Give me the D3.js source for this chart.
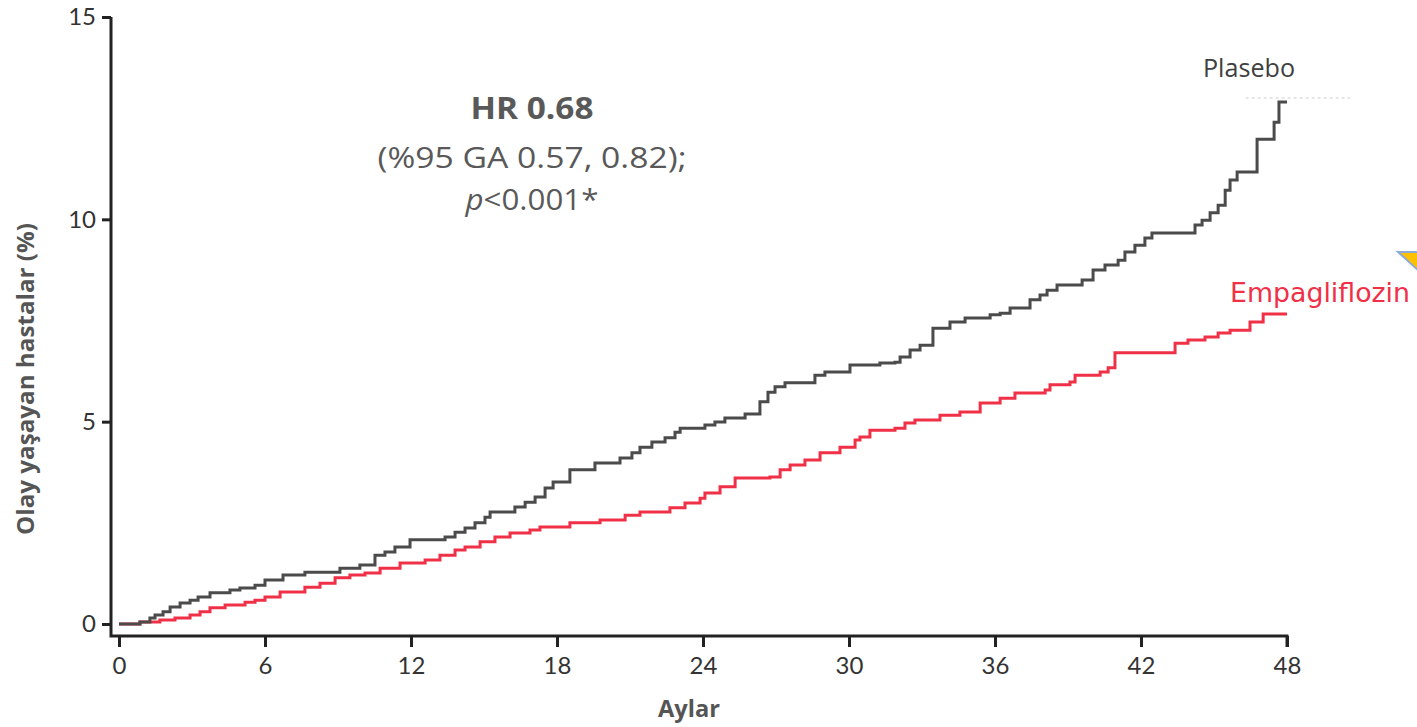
<!DOCTYPE html>
<html>
<head>
<meta charset="utf-8">
<script src="https://cdn.jsdelivr.net/npm/d3@7"></script>
<style>
  html, body { margin: 0; padding: 0; background: #fff; }
  svg { display: block; }
</style>
</head>
<body>
<svg id="chart" width="1417" height="727"></svg>
<script>
// Cumulative incidence (%) by month, step curves
const placeboMonths = [0, 0.86, 1.27, 1.48, 1.81, 2.10, 2.51, 2.92, 3.25, 3.74, 4.56, 4.97, 5.59, 6.00, 6.74, 7.64, 9.08, 9.90, 10.52, 10.93, 11.34, 11.96, 13.40, 13.81, 14.22, 14.63, 15.04, 15.25, 16.27, 16.69, 17.10, 17.51, 17.84, 18.53, 19.56, 20.59, 21.08, 21.41, 21.90, 22.44, 22.85, 23.06, 24.08, 24.49, 24.90, 25.73, 26.34, 26.67, 26.96, 27.37, 28.60, 29.01, 30.04, 31.27, 31.89, 32.10, 32.51, 32.92, 33.45, 34.15, 34.77, 35.80, 36.21, 36.62, 37.44, 37.85, 38.14, 38.55, 39.58, 40.03, 40.52, 41.06, 41.34, 41.75, 42.16, 42.45, 44.22, 44.51, 44.84, 45.17, 45.46, 45.66, 45.95, 46.77, 47.47, 47.67, 48.0];
const placeboValues = [0, 0.05, 0.15, 0.22, 0.30, 0.42, 0.52, 0.59, 0.67, 0.77, 0.84, 0.89, 0.96, 1.09, 1.21, 1.28, 1.38, 1.46, 1.70, 1.78, 1.90, 2.08, 2.15, 2.27, 2.37, 2.50, 2.64, 2.77, 2.89, 3.01, 3.14, 3.36, 3.51, 3.81, 3.98, 4.10, 4.23, 4.37, 4.50, 4.60, 4.74, 4.84, 4.92, 4.99, 5.09, 5.19, 5.49, 5.73, 5.86, 5.96, 6.15, 6.23, 6.40, 6.45, 6.47, 6.60, 6.77, 6.89, 7.31, 7.46, 7.56, 7.64, 7.68, 7.81, 8.01, 8.13, 8.25, 8.38, 8.50, 8.75, 8.87, 8.99, 9.19, 9.36, 9.54, 9.66, 9.86, 9.98, 10.16, 10.35, 10.72, 10.97, 11.17, 11.98, 12.40, 12.90, 12.90];

const empaMonths = [0, 0.86, 1.68, 2.30, 2.92, 3.33, 3.74, 4.36, 5.18, 5.59, 6.00, 6.62, 7.64, 8.26, 8.88, 9.49, 10.11, 10.73, 11.55, 12.58, 13.19, 13.81, 14.22, 14.84, 15.45, 16.07, 16.89, 17.30, 18.53, 19.77, 20.80, 21.41, 22.64, 23.26, 23.88, 24.08, 24.70, 25.32, 26.75, 27.17, 27.58, 28.19, 28.81, 29.63, 30.25, 30.45, 30.86, 31.89, 32.30, 32.71, 33.74, 34.56, 35.39, 36.21, 36.82, 38.06, 38.26, 39.08, 39.29, 40.32, 40.65, 40.93, 43.40, 43.93, 44.63, 45.17, 45.66, 46.48, 47.02, 48.0];
const empaValues = [0, 0.05, 0.10, 0.15, 0.22, 0.30, 0.40, 0.47, 0.54, 0.59, 0.67, 0.79, 0.91, 1.01, 1.14, 1.21, 1.26, 1.38, 1.51, 1.58, 1.70, 1.83, 1.90, 2.03, 2.15, 2.25, 2.32, 2.40, 2.50, 2.57, 2.69, 2.77, 2.87, 2.99, 3.11, 3.24, 3.39, 3.61, 3.63, 3.81, 3.93, 4.05, 4.23, 4.37, 4.55, 4.62, 4.79, 4.84, 4.97, 5.04, 5.16, 5.24, 5.46, 5.58, 5.71, 5.78, 5.91, 5.98, 6.15, 6.23, 6.33, 6.70, 6.94, 7.02, 7.09, 7.19, 7.26, 7.46, 7.66, 7.66];

const xTicks = [0, 6, 12, 18, 24, 30, 36, 42, 48];
const yTicks = [0, 5, 10, 15];

const seriesNames = ["Plasebo", "Empagliflozin"];
const statLines = ["HR 0.68", "(%95 GA 0.57, 0.82);", "<0.001*"];
const xTitle = "Aylar";
const yTitle = "Olay yaşayan hastalar (%)";

const svg = d3.select("#chart");

const x = d3.scaleLinear().domain([0, 48]).range([119, 1287]);
const y = d3.scaleLinear().domain([0, 15]).range([624, 17]);

const axisColor = "#222";
const tickFont = "Lato, 'DejaVu Sans', sans-serif";

// Axis frame: vertical and horizontal spines meeting at the lower-left corner
const axisX0 = 111, axisY0 = 636;

const gx = svg.append("g").attr("transform", `translate(0,${axisY0})`)
  .call(d3.axisBottom(x).tickValues(xTicks).tickSize(11).tickPadding(10).tickSizeOuter(0));
gx.select(".domain").remove();
gx.selectAll(".tick line").attr("stroke", axisColor).attr("stroke-width", 3);
gx.selectAll(".tick text").attr("font-family", tickFont).attr("font-size", 24).attr("fill", "#333");

const gy = svg.append("g").attr("transform", `translate(${axisX0},0)`)
  .call(d3.axisLeft(y).tickValues(yTicks).tickSize(9).tickPadding(6).tickSizeOuter(0));
gy.select(".domain").remove();
gy.selectAll(".tick line").attr("stroke", axisColor).attr("stroke-width", 3);
gy.selectAll(".tick text").attr("font-family", tickFont).attr("font-size", 24).attr("fill", "#333");

svg.append("path")
  .attr("d", `M${axisX0},${y(15)}V${axisY0}H${x(48)}V${axisY0 + 11}`)
  .attr("fill", "none").attr("stroke", axisColor).attr("stroke-width", 3);

// Step curves
const line = d3.line().x(d => x(d[0])).y(d => y(d[1])).curve(d3.curveStepAfter);
const placebo = placeboMonths.map((m, i) => [m, placeboValues[i]]);
const empa = empaMonths.map((m, i) => [m, empaValues[i]]);

svg.append("path").datum(empa).attr("d", line)
  .attr("fill", "none").attr("stroke", "#ef3047").attr("stroke-width", 3);
svg.append("path").datum(placebo).attr("d", line)
  .attr("fill", "none").attr("stroke", "#4b4b4b").attr("stroke-width", 3);

// faint dotted trace above the placebo end
svg.append("line")
  .attr("x1", x(46.3)).attr("x2", x(50.6)).attr("y1", 98).attr("y2", 98)
  .attr("stroke", "#e6e6e6").attr("stroke-width", 2).attr("stroke-dasharray", "3 3");

// Series labels
const labelFont = "'Open Sans', Lato, sans-serif";
svg.append("text").attr("x", 1249).attr("y", 77).attr("text-anchor", "middle")
  .attr("font-family", labelFont).attr("font-size", 25).attr("fill", "#404040")
  .attr("textLength", 92).attr("lengthAdjust", "spacingAndGlyphs")
  .text(seriesNames[0]);
svg.append("text").attr("x", 1320).attr("y", 302).attr("text-anchor", "middle")
  .attr("font-family", "'DejaVu Sans', sans-serif").attr("font-size", 27).attr("fill", "#ef3047")
  .attr("textLength", 180).attr("lengthAdjust", "spacingAndGlyphs")
  .text(seriesNames[1]);

// Hazard-ratio annotation
const statX = 532;
const statStyle = t => t.attr("x", statX).attr("text-anchor", "middle")
  .attr("font-family", labelFont).attr("font-size", 30).attr("fill", "#595959")
  .attr("lengthAdjust", "spacingAndGlyphs");
svg.append("text").call(statStyle).attr("y", 119).attr("font-weight", "bold")
  .attr("textLength", 123).text(statLines[0]);
svg.append("text").call(statStyle).attr("y", 168)
  .attr("textLength", 309).text(statLines[1]);
const pLine = svg.append("text").call(statStyle).attr("y", 210).attr("textLength", 133);
pLine.append("tspan").attr("font-style", "italic").text("p");
pLine.append("tspan").text(statLines[2]);

// Axis titles
svg.append("text").attr("x", 689).attr("y", 717).attr("text-anchor", "middle")
  .attr("font-family", labelFont).attr("font-weight", "bold").attr("font-size", 23).attr("fill", "#555")
  .attr("textLength", 62).attr("lengthAdjust", "spacingAndGlyphs")
  .text(xTitle);
svg.append("text").attr("transform", "translate(34,379) rotate(-90)").attr("text-anchor", "middle")
  .attr("font-family", labelFont).attr("font-weight", "bold").attr("font-size", 23).attr("fill", "#555")
  .attr("textLength", 312).attr("lengthAdjust", "spacingAndGlyphs")
  .text(yTitle);

// corner marker at the right edge
svg.append("path")
  .attr("d", "M1398,252 L1420,252 L1420,272 Z")
  .attr("fill", "#ffc000").attr("stroke", "#8eaadb").attr("stroke-width", 2);
</script>
</body>
</html>
